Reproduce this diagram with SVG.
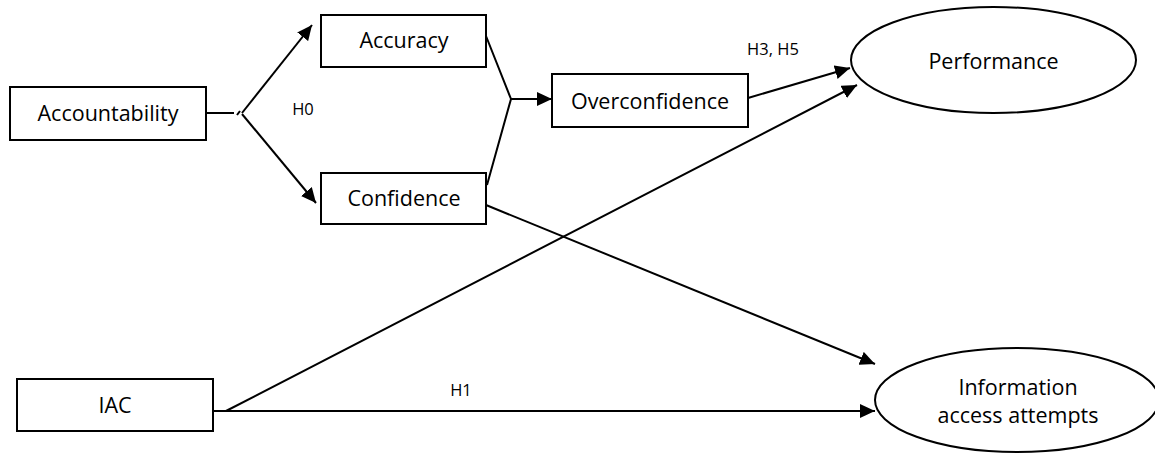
<svg xmlns="http://www.w3.org/2000/svg" width="1155" height="454" viewBox="0 0 1155 454">
  <style>
    .box { fill: #ffffff; stroke: #000000; stroke-width: 2; }
    .oval { fill: #ffffff; stroke: #000000; stroke-width: 2; }
    .lbl { font-family: "Open Sans", "Liberation Sans", sans-serif; font-size: 21.5px; fill: #000000; text-anchor: middle; }
    .hyp { font-family: "Open Sans", "Liberation Sans", sans-serif; font-size: 16.5px; fill: #000000; text-anchor: middle; }
    .edge { fill: none; stroke: #000000; stroke-width: 2; }
    .arrow { marker-end: url(#head); }
  </style>
  <defs>
    <marker id="head" markerUnits="userSpaceOnUse" markerWidth="16" markerHeight="14" refX="15" refY="7" orient="auto">
      <path d="M0,0 L15,7 L0,14 Z" fill="#000000"/>
    </marker>
  </defs>
  <rect width="1155" height="454" fill="#ffffff"/>

  <!-- connectors -->
  <g id="connectors">
    <!-- Accountability splits into accuracy and confidence -->
    <line class="edge" x1="206" y1="113" x2="234" y2="113"/>
    <line class="edge" x1="237" y1="115" x2="240" y2="111"/>
    <line class="edge arrow" x1="242" y1="113" x2="312" y2="25"/>
    <line class="edge arrow" x1="242" y1="114" x2="316" y2="203"/>
    <!-- accuracy and confidence join into overconfidence -->
    <polyline class="edge" points="486,36 511,99 487,185"/>
    <line class="edge arrow" x1="511" y1="99" x2="552" y2="99"/>
    <!-- to performance -->
    <line class="edge arrow" x1="748" y1="98" x2="850" y2="68"/>
    <line class="edge arrow" x1="226" y1="411" x2="857" y2="85"/>
    <!-- to information access attempts -->
    <line class="edge arrow" x1="486" y1="205" x2="875" y2="364"/>
    <line class="edge arrow" x1="213" y1="411" x2="875" y2="411"/>
    <!-- hypothesis labels -->
    <text class="hyp" x="303" y="115">H0</text>
    <text class="hyp" x="773" y="55">H3, H5</text>
    <text class="hyp" x="461" y="396">H1</text>
  </g>

  <g id="accountability">
    <rect class="box" x="10" y="87" width="196" height="53"/>
    <text class="lbl" x="108" y="121">Accountability</text>
  </g>
  <g id="accuracy">
    <rect class="box" x="321" y="15" width="165" height="52"/>
    <text class="lbl" x="404" y="48">Accuracy</text>
  </g>
  <g id="confidence">
    <rect class="box" x="321" y="173" width="165" height="51"/>
    <text class="lbl" x="404" y="206">Confidence</text>
  </g>
  <g id="overconfidence">
    <rect class="box" x="552" y="74" width="196" height="53"/>
    <text class="lbl" x="650" y="109">Overconfidence</text>
  </g>
  <g id="iac">
    <rect class="box" x="17" y="379" width="196" height="52"/>
    <text class="lbl" x="115" y="413">IAC</text>
  </g>
  <g id="performance">
    <ellipse class="oval" cx="993.5" cy="60" rx="142.5" ry="53"/>
    <text class="lbl" x="993.5" y="69">Performance</text>
  </g>
  <g id="information-access-attempts">
    <ellipse class="oval" cx="1017" cy="400" rx="142" ry="52"/>
    <text class="lbl" x="1018" y="395">Information</text>
    <text class="lbl" x="1018" y="423">access attempts</text>
  </g>
</svg>
